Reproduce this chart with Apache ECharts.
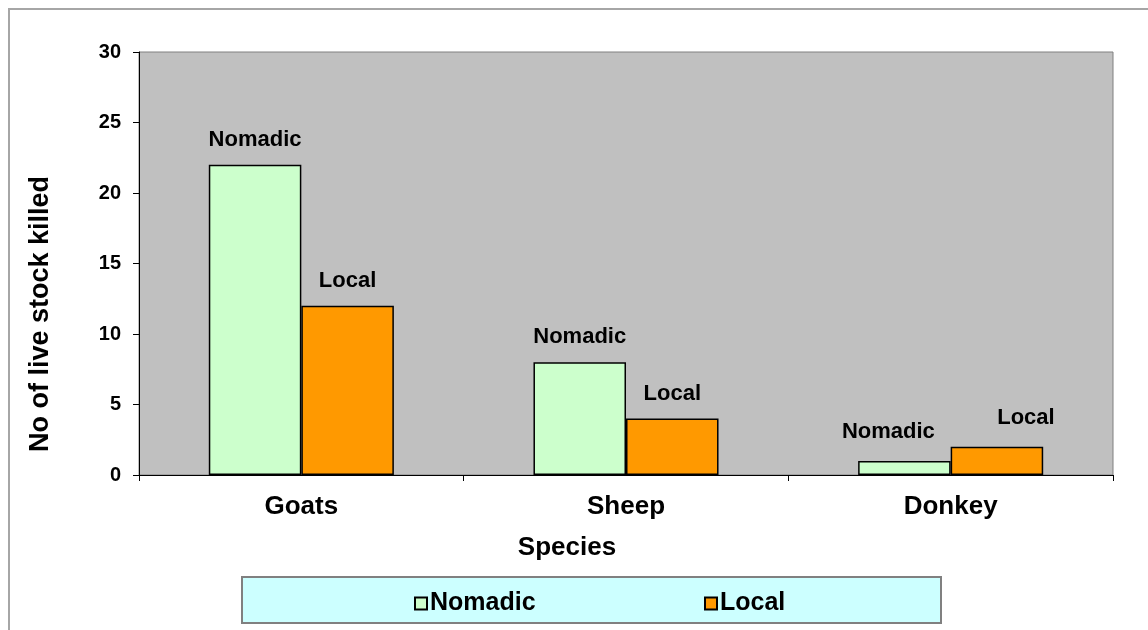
<!DOCTYPE html>
<html>
<head>
<meta charset="utf-8">
<script src="https://cdn.jsdelivr.net/npm/echarts@6/dist/echarts.min.js"></script>
<style>
  html, body { margin: 0; padding: 0; background: #fff; }
  #chart { width: 1148px; height: 630px; }
</style>
</head>
<body>
<div id="chart"></div>
<script>
const species = ['Goats', 'Sheep', 'Donkey']
const nomadic = [22, 8, 1]
const local = [12, 4, 2]
const yTicks = [0, 5, 10, 15, 20, 25, 30]

const font = "'Liberation Sans', Arial, sans-serif"

// Excel moved the Donkey labels a bit, nudge them the same way
const nudge = {
  Nomadic: { Donkey: [-16, -4] },
  Local: { Donkey: [29, -4] }
}

function buildData(name, values) {
  return values.map((v, i) => {
    const off = nudge[name][species[i]]
    if (!off) return v
    return { value: v, label: { offset: off } }
  })
}

const chart = echarts.init(document.getElementById('chart'))

chart.setOption({
  animation: false,
  textStyle: { fontFamily: font },
  grid: {
    left: 139,
    top: 52,
    right: 35,
    bottom: 155,
    show: true,
    backgroundColor: '#c0c0c0',
    borderColor: '#808080',
    borderWidth: 1
  },
  legend: [
    {
      data: ['Nomadic'],
      left: 409,
      top: 586,
      icon: 'rect',
      itemWidth: 12,
      itemHeight: 12,
      itemGap: 0,
      textStyle: { fontFamily: font, fontSize: 25, fontWeight: 'bold', color: '#000', padding: [0, 0, 0, -2] }
    },
    {
      data: ['Local'],
      left: 699,
      top: 586,
      icon: 'rect',
      itemWidth: 12,
      itemHeight: 12,
      textStyle: { fontFamily: font, fontSize: 25, fontWeight: 'bold', color: '#000', padding: [0, 0, 0, -2] }
    }
  ],
  graphic: [
    {
      type: 'rect',
      z: -10,
      shape: { x: 9, y: 9, width: 1160, height: 640 },
      style: { fill: '#fff', stroke: '#a6a6a6', lineWidth: 2 }
    },
    {
      type: 'rect',
      z: -5,
      shape: { x: 242, y: 577, width: 699, height: 46 },
      style: { fill: '#ccffff', stroke: '#808080', lineWidth: 2 }
    },
    {
      type: 'text',
      x: 41,
      y: 314,
      rotation: Math.PI / 2,
      style: {
        text: 'No of live stock killed',
        font: 'bold 27px ' + font,
        fill: '#000',
        align: 'center',
        verticalAlign: 'middle'
      }
    },
    {
      type: 'text',
      x: 567,
      y: 548,
      style: {
        text: 'Species',
        font: 'bold 26px ' + font,
        fill: '#000',
        align: 'center',
        verticalAlign: 'middle'
      }
    }
  ],
  xAxis: {
    type: 'category',
    data: species,
    axisLine: { lineStyle: { color: '#000', width: 1 } },
    axisTick: { show: true, length: 6, lineStyle: { color: '#000' } },
    axisLabel: {
      margin: 19,
      fontSize: 26,
      fontWeight: 'bold',
      color: '#000',
      fontFamily: font
    },
    splitLine: { show: false }
  },
  yAxis: {
    type: 'value',
    min: yTicks[0],
    max: yTicks[yTicks.length - 1],
    interval: yTicks[1] - yTicks[0],
    axisLine: { show: true, lineStyle: { color: '#000', width: 1 } },
    axisTick: { show: true, length: 6, lineStyle: { color: '#000' } },
    axisLabel: {
      margin: 18,
      fontSize: 20,
      fontWeight: 'bold',
      color: '#000',
      fontFamily: font
    },
    splitLine: { show: false }
  },
  series: [
    {
      name: 'Nomadic',
      type: 'bar',
      data: buildData('Nomadic', nomadic),
      barGap: '0%',
      barCategoryGap: '43%',
      itemStyle: { color: '#ccffcc', borderColor: '#000', borderWidth: 1.5 },
      label: {
        show: true,
        position: 'top',
        distance: 14,
        formatter: '{a}',
        fontSize: 22,
        fontWeight: 'bold',
        color: '#000',
        fontFamily: font
      }
    },
    {
      name: 'Local',
      type: 'bar',
      data: buildData('Local', local),
      barGap: '0%',
      barCategoryGap: '43%',
      itemStyle: { color: '#ff9900', borderColor: '#000', borderWidth: 1.5 },
      label: {
        show: true,
        position: 'top',
        distance: 14,
        formatter: '{a}',
        fontSize: 22,
        fontWeight: 'bold',
        color: '#000',
        fontFamily: font
      }
    }
  ]
})
</script>
</body>
</html>
